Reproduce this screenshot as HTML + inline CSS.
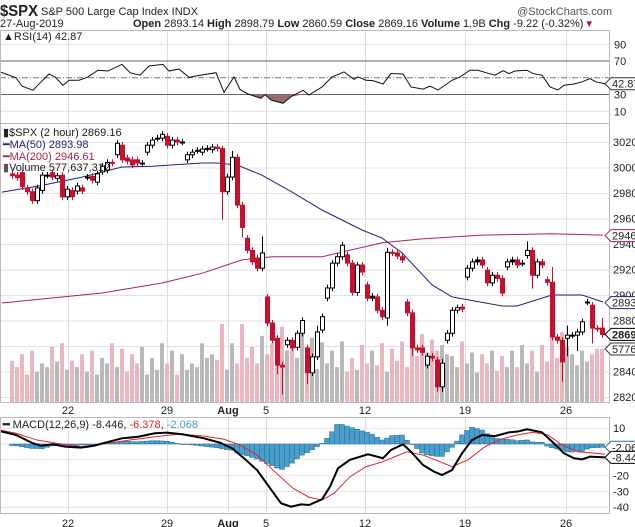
<!DOCTYPE html>
<html><head><meta charset="utf-8">
<style>
body{margin:0;background:#fff;}
svg{display:block;font-family:"Liberation Sans",sans-serif;}
text{font-size:11px;fill:#222;}
</style></head>
<body>
<svg id="chart" width="635" height="527" viewBox="0 0 635 527" xmlns="http://www.w3.org/2000/svg">
<rect x="0" y="0" width="635" height="527" fill="#fff"/>
<g>
<text x="0" y="16" textLength="38" lengthAdjust="spacingAndGlyphs" style="font-size:16px;font-weight:bold">$SPX</text>
<text x="41" y="15">S&amp;P 500 Large Cap Index  INDX</text>
<text x="612" y="15" text-anchor="end" style="fill:#555">@StockCharts.com</text>
<text x="0" y="27">27-Aug-2019</text>
<text x="133" y="27"><tspan font-weight="bold">Open</tspan> 2893.14 <tspan font-weight="bold">High</tspan> 2898.79 <tspan font-weight="bold">Low</tspan> 2860.59 <tspan font-weight="bold">Close</tspan> 2869.16 <tspan font-weight="bold">Volume</tspan> 1.9B <tspan font-weight="bold">Chg</tspan> -9.22 (-0.32%) <tspan fill="#b0103a">▾</tspan></text>
</g>
<g id="grid"></g>
<g id="rsi"></g>
<g id="main"></g>
<g id="macd"></g>
<g id="axes"></g>
</svg>
<script>
// ---- data ----
const opens=[2995,2994,2996,2984,2981,2974,2982,2994,2996,2991.5,2994,2977,2982,2981.5,2984,2992.5,2993,2988.5,2996.5,2998,3004,3010,3017.5,3007.5,3006,3006,3003.5,3012,3017.5,3023,3023,3024.5,3017.5,3021.5,3020,3006,3010,3013.5,3012,3015,3014,3016,3015,2981,2992.5,3008,2970.5,2944.5,2935,2929,2921,2898.5,2878,2866,2845,2861,2864.5,2859,2870,2858.5,2839,2851.5,2872.5,2897.5,2905.5,2925,2930,2931.5,2925,2902,2923.5,2908,2897.5,2898.5,2888,2882,2933.5,2933,2930,2894.5,2886,2858.5,2858.5,2845,2852,2849,2828,2864.5,2870,2888,2890.5,2914,2921,2926,2927.5,2919.5,2909.5,2915.5,2913,2922,2926,2927.5,2925,2931,2935,2915.5,2926,2912,2910,2867,2864.5,2866,2868.5,2868.5,2871,2894.5,2892,2874,2874];
const closes=[2993.5,2992,2985,2981,2974,2984,2994,2994,2992.5,2993.5,2977,2983,2977,2985.5,2981.5,2992.5,2990,2995,3001,3004,3003.5,3019,3006,3005,3002,3003.5,3003.5,3017.5,3021.5,3023,3026,3017.5,3021.5,3020,3020,3010,3012,3013.5,3014.5,3015,3016,3015,2981,2992.5,3008,2970.5,2953,2935,2926,2921,2933,2878,2864.5,2845,2843.5,2864.5,2858.5,2870,2880,2839,2851.5,2871,2883,2905.5,2925,2930,2939,2925,2902,2923.5,2918,2897.5,2899,2888,2883,2933.5,2933,2930.5,2927.5,2886,2858.5,2857,2855,2852,2850.5,2828,2846.5,2870,2888,2890,2889,2921,2926,2927.5,2923.5,2909.5,2915.5,2913,2901.5,2926,2927.5,2923.5,2925,2935,2915.5,2926,2923.5,2910,2867,2864.5,2847.5,2868.5,2868.5,2871,2879,2894.5,2874,2873.5,2869];
const highOverrides={42:3017,44:3013,50:2946,75:2937,103:2942,108:2922,111:2876,118:2882,63:2908,69:2926,86:2850,61:2876};
const lowOverrides={42:2959,46:2945,53:2838,54:2822,59:2830,75:2876,85:2824,104:2905,110:2832,111:2852,113:2856,116:2862,80:2852,86:2824};
const volumes=[450,380,520,300,560,330,420,380,600,440,640,350,450,380,520,330,560,300,480,420,640,380,580,330,520,420,600,300,480,350,640,420,560,300,520,350,420,380,640,480,520,460,850,350,640,420,850,480,600,420,720,520,640,700,820,560,620,480,760,540,700,360,650,420,560,380,660,330,480,350,620,420,560,400,640,330,580,450,660,380,620,500,740,540,680,560,620,520,500,380,660,420,540,320,520,420,560,340,500,380,560,380,620,420,560,330,620,440,700,480,760,600,520,400,560,440,520,580,577];
const ma50Bar=[-2,6,14,22,28,38,41,45,50,56,62,70,74,78,84,88,98,101,106,108,114,118.2];
const ma50Val=[2980.7,2986,2992.5,3000.4,3001,3003.5,3003.5,3002,2994,2980.7,2966.7,2951,2944.7,2933,2908,2898.5,2891.4,2891.4,2897.6,2900,2900,2894.5];
const ma200Bar=[-2,18,30,38,46,52,62,74,82,94,108,118.2];
const ma200Val=[2893.7,2901.6,2909.4,2917,2927.5,2930,2930,2941,2944,2947,2948,2947];
const rsiX=[0,16,22,33,41,49,55,63,69,79,88,98,108,122,130,140,149,163,169,179,189,200,216,224,234,240,248,261,265,271,283,291,303,309,322,332,344,354,358,366,373,383,391,403,411,423,430,438,452,460,470,478,489,495,503,509,515,527,533,542,550,558,564,574,582,590,596,605];
const rsiVal=[57,50,40,35,45,54.5,51,41,47,47,51,59,58,66,56,53,64,66,58,60.5,50.5,53,56,32.6,51,36,30.6,25.5,30,23.4,19.5,27.4,35,29.4,39,51,57,48,51,47,46.5,42.5,55,54.5,39,36.5,40,35.4,47,51,59,59,55,53,58.5,55,58,59,55,53,39,35.4,41,42.5,45,49,45,42.87];
const macdX=[0,16,33,41,53,65,81,94,106,122,138,155,167,183,204,220,232,244,257,269,281,291,301,309,322,330,338,350,358,368,383,391,403,411,423,434,442,452,462,472,482,495,509,517,527,542,554,564,574,582,590,605];
const macdVal=[8.2,5.7,0.4,-1.1,-0.2,-1.7,-2.3,-1.1,1,3.6,4.6,6.8,7.2,6.1,3.6,0.8,-2.7,-9,-16.5,-27,-37.5,-39.7,-38.2,-38.6,-35,-27,-15.4,-10,-8.4,-6.5,-9,-3.8,-0.2,-4.9,-13.3,-17.5,-19.6,-16.5,-5.9,2.5,5.7,5,7.4,7.8,9.3,7.4,0.4,-5.9,-9,-9.7,-8,-8.446];
const sigX=[0,16,37,57,81,106,130,155,179,204,224,240,257,273,293,309,322,334,350,366,383,395,407,423,440,452,468,485,501,517,533,548,562,578,605];
const sigVal=[8.9,6.8,2.5,0.4,-1.7,0.4,2.5,4.6,6.3,5,3,-0.6,-7,-16.5,-28,-33.7,-35.4,-31.2,-20.7,-14.4,-11.2,-8,-4.9,-7,-11.2,-14.4,-10,-1.7,3,5.7,7.4,5.7,-0.6,-4.9,-6.378];
const xTickLabels=["22","29","Aug","5","12","19","26"];
const xTickPos=[68,167,228,266,365,465,566];
const priceTicks=[3020,3000,2980,2960,2940,2920,2900,2880,2860,2840,2820];
const rsiTicks=[90,70,50,30,10];
const macdTicks=[10,0,-10,-20,-30,-40];

// ---- scales ----
const xb=i=>12+5*i;
const yp=p=>397-(p-2820)*1.275;
const yr=v=>94.5-(v-30)*0.8375;
const ym=v=>444-v*1.58;
const yv=v=>402-v*0.0918;
const NS="http://www.w3.org/2000/svg";
function mk(tag,attrs,parent){const e=document.createElementNS(NS,tag);for(const k in attrs)e.setAttribute(k,attrs[k]);parent.appendChild(e);return e;}
function interp(xs,vs,x){if(x<=xs[0])return vs[0];for(let k=1;k<xs.length;k++){if(x<=xs[k]){const t=(x-xs[k-1])/(xs[k]-xs[k-1]);return vs[k-1]+t*(vs[k]-vs[k-1]);}}return vs[vs.length-1];}
const G=document.getElementById('grid'),R=document.getElementById('rsi'),M=document.getElementById('main'),D=document.getElementById('macd'),A=document.getElementById('axes');

// panels
[[30,123],[123,402],[417,513]].forEach((p,k)=>{
 const r=mk('rect',{x:0.5,y:p[0]+0.5,width:609,height:p[1]-p[0],fill:'none',stroke:'#bbb'},A);
 
 
});
// vertical grid
xTickPos.forEach((x,k)=>{
 [[30,402],[417,513]].forEach(p=>{const l=mk('line',{x1:x+0.5,x2:x+0.5,y1:p[0],y2:p[1],stroke:'#ddd'},G);
 
 });
 [410,523].forEach(y=>{const t=mk('text',{x:x,y:y+4,'text-anchor':'middle'},A);t.textContent=xTickLabels[k];
 if(xTickLabels[k]==='Aug')t.setAttribute('font-weight','bold');
 
 });
});
// price grid + labels
priceTicks.forEach(p=>{const y=yp(p);
 const l=mk('line',{x1:0,x2:609,y1:y+0.5,y2:y+0.5,stroke:'#e2e2e2'},G);
 
 
 const t=mk('text',{x:613,y:y+4},A);t.textContent=p;
 
 });
// rsi grid
rsiTicks.forEach(v=>{const y=yr(v);
 const st=(v===70||v===30)?{stroke:'#666'}:(v===50?{stroke:'#777','stroke-dasharray':'6,2,1,2'}:{stroke:'#e2e2e2'});
 const l=mk('line',Object.assign({x1:0,x2:609,y1:y,y2:y},st),G);
 
 
 if(v!==50){const t=mk('text',{x:614,y:y+4},A);t.textContent=v;
 
 }});
// macd grid
macdTicks.forEach(v=>{const y=ym(v);
 const l=mk('line',{x1:0,x2:609,y1:y,y2:y,stroke:'#e2e2e2'},G);
 
 
 if(v!==0&&v!==-10){const t=mk('text',{x:613,y:y+4},A);t.textContent=v;
 
 }});

// RSI oversold fill + line
let fillPts=[];
for(let k=0;k<rsiX.length;k++){fillPts.push(rsiX[k]+','+Math.max(yr(rsiVal[k]),yr(30)));}
const fp=mk('polygon',{points:'0,'+yr(30)+' '+fillPts.join(' ')+' 605,'+yr(30),fill:'#9c6a68'},R);


const rl=mk('polyline',{points:rsiX.map((x,k)=>x+','+yr(rsiVal[k])).join(' '),fill:'none',stroke:'#111','stroke-width':1},R);



// volume
for(let i=0;i<opens.length;i++){const v=volumes[i]||300;const up=closes[i]>=opens[i];
 const b=mk('rect',{x:xb(i)-2,y:yv(v),width:4,height:402-yv(v),fill:up?'#b9b9b9':'#ebb6bd'},M);
 
 }
// MAs
function maPath(bars,vals){return bars.map((b,k)=>(k?'L':'M')+Math.max(0,xb(b)).toFixed(1)+','+yp(vals[k]).toFixed(1)).join('');}
const m2=mk('path',{d:maPath(ma200Bar,ma200Val),fill:'none',stroke:'#b0204a','stroke-width':1},M);


const m1=mk('path',{d:maPath(ma50Bar,ma50Val),fill:'none',stroke:'#23237a','stroke-width':1},M);


// candles
for(let i=0;i<opens.length;i++){const o=opens[i],c=closes[i];
 const hi=highOverrides[i]!==undefined?highOverrides[i]:Math.max(o,c)+2.5;
 const lo=lowOverrides[i]!==undefined?lowOverrides[i]:Math.min(o,c)-2.5;
 const x=xb(i);const col=c<o?'#c8102e':'#000';
 const w=mk('line',{x1:x+0.5,x2:x+0.5,y1:yp(hi),y2:yp(lo),stroke:col},M);
 
 
 const top=yp(Math.max(o,c)),h=Math.max(1,yp(Math.min(o,c))-top);
 const r=mk('rect',{x:x-1.5,y:top,width:4,height:h,fill:c<o?'#c8102e':(h<2?'#000':'#fff'),stroke:col,'stroke-width':1},M);
 
 }

// MACD histogram
for(let i=0;i<opens.length;i++){const x=xb(i);const h=interp(macdX,macdVal,x)-interp(sigX,sigVal,x);
 const y0=ym(0),y1=ym(h);
 const b=mk('rect',{x:x-2.5,y:Math.min(y0,y1),width:5,height:Math.max(0.5,Math.abs(y1-y0)),fill:'#4a9ecb',stroke:'#2a6f96','stroke-width':0.5},D);
 
 }
const sl=mk('polyline',{points:sigX.map((x,k)=>x+','+ym(sigVal[k])).join(' '),fill:'none',stroke:'#e0252a','stroke-width':1},D);


const ml=mk('polyline',{points:macdX.map((x,k)=>x+','+ym(macdVal[k])).join(' '),fill:'none',stroke:'#000','stroke-width':2},D);



// value tags
function tag(y,txt,stroke,bold,name){const g=mk('g',{},A);
 
 
 mk('path',{d:`M605,${y} L611,${y-6} L636,${y-6} L636,${y+6} L611,${y+6} Z`,fill:'#fff',stroke:stroke},g);
 const t=mk('text',{x:612,y:y+4},g);t.textContent=txt;if(bold)t.setAttribute('font-weight','bold');}
tag(yr(42.87),'42.87','#333',false,'rsi-value-tag');
tag(yp(2946.61),'2946','#b0204a',false,'ma200-value-tag');
tag(yp(2893.98),'2893','#23237a',false,'ma50-value-tag');
tag(yp(2869.16),'2869','#000',true,'close-value-tag');
tag(yv(577.6),'5776','#333',false,'volume-value-tag');
tag(ym(-2.068),'-2.06','#2a6f96',false,'histogram-value-tag');
tag(ym(-8.446),'-8.44','#000',false,'macd-value-tag');

// legends
function leg(x,y,html,name){const t=mk('text',{x:x,y:y},A);t.innerHTML=html;
 
 }
leg(3,40,'<tspan font-weight="bold">▲</tspan>RSI(14) 42.87','rsi-legend');
leg(3,136,'▮$SPX (2 hour) 2869.16','price-legend');
leg(3,148,'<tspan fill="#23237a">━MA(50) 2893.98</tspan>','ma50-legend');
leg(3,160,'<tspan fill="#b0204a">━MA(200) 2946.61</tspan>','ma200-legend');
leg(3,171,'<tspan fill="#555">▮</tspan>Volume 577,637,312','volume-legend');
leg(3,428,'<tspan font-weight="bold">━</tspan> MACD(12,26,9) -8.446, <tspan fill="#e0252a">-6.378</tspan>, <tspan fill="#4a9ecb">-2.068</tspan>','macd-legend');
</script>
</body></html>
